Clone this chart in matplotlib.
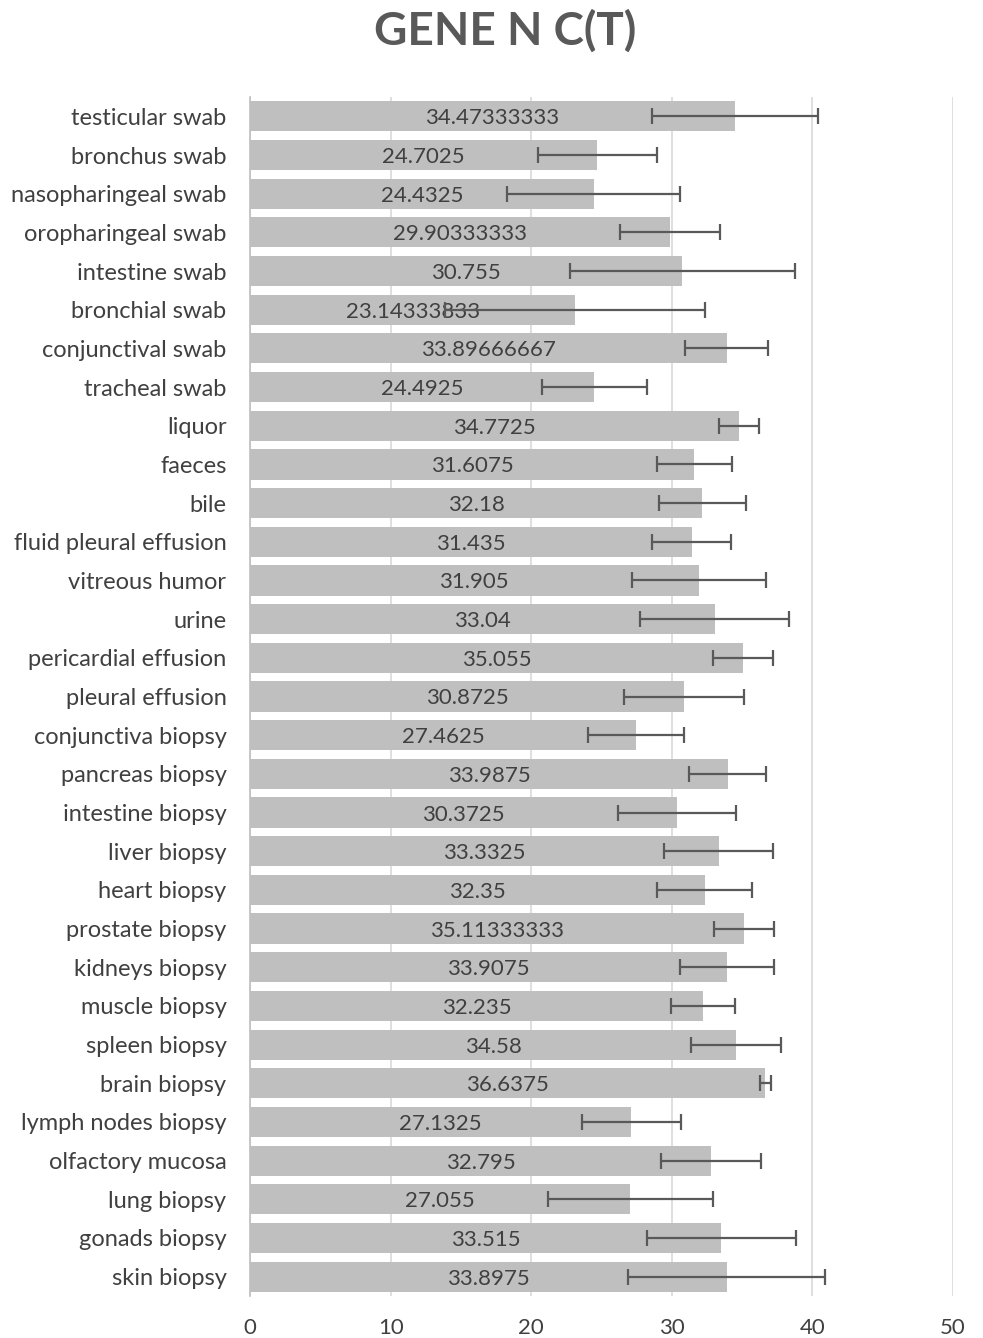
import matplotlib
matplotlib.use("Agg")
import matplotlib.pyplot as plt

categories = [
    "testicular swab", "bronchus swab", "nasopharingeal swab", "oropharingeal swab",
    "intestine swab", "bronchial swab", "conjunctival swab", "tracheal swab",
    "liquor", "faeces", "bile", "fluid pleural effusion", "vitreous humor", "urine",
    "pericardial effusion", "pleural effusion", "conjunctiva biopsy", "pancreas biopsy",
    "intestine biopsy", "liver biopsy", "heart biopsy", "prostate biopsy",
    "kidneys biopsy", "muscle biopsy", "spleen biopsy", "brain biopsy",
    "lymph nodes biopsy", "olfactory mucosa", "lung biopsy", "gonads biopsy", "skin biopsy",
]
values = [
    34.47333333, 24.7025, 24.4325, 29.90333333, 30.755, 23.14333333, 33.89666667,
    24.4925, 34.7725, 31.6075, 32.18, 31.435, 31.905, 33.04, 35.055, 30.8725,
    27.4625, 33.9875, 30.3725, 33.3325, 32.35, 35.11333333, 33.9075, 32.235,
    34.58, 36.6375, 27.1325, 32.795, 27.055, 33.515, 33.8975,
]
value_labels = [
    "34.47333333", "24.7025", "24.4325", "29.90333333", "30.755", "23.14333833",
    "33.89666667", "24.4925", "34.7725", "31.6075", "32.18", "31.435", "31.905",
    "33.04", "35.055", "30.8725", "27.4625", "33.9875", "30.3725", "33.3325",
    "32.35", "35.11333333", "33.9075", "32.235", "34.58", "36.6375", "27.1325",
    "32.795", "27.055", "33.515", "33.8975",
]
errors = [
    5.9, 4.24, 6.14, 3.56, 8.0, 9.25, 2.96, 3.71, 1.44, 2.69, 3.1, 2.81, 4.76,
    5.31, 2.15, 4.28, 3.44, 2.73, 4.17, 3.88, 3.38, 2.12, 3.33, 2.27, 3.2, 0.39,
    3.5, 3.58, 5.87, 5.29, 7.03,
]
xticks = [0, 10, 20, 30, 40, 50]

font = ["Lato", "DejaVu Sans"]
plt.rcParams["font.family"] = font
text_col = "#404040"

fig = plt.figure(figsize=(9.83, 13.38), dpi=100)
ax = fig.add_axes([250 / 983, 1 - 1296 / 1338, 703 / 983, 1199 / 1338])

y = list(range(len(categories)))
ax.barh(y, values, height=0.78, color="#BFBFBF", zorder=2)
ax.errorbar(values, y, xerr=errors, fmt="none", ecolor="#595959",
            elinewidth=1.6, capsize=5.5, capthick=1.6, zorder=4)

for yi, v, lab in zip(y, values, value_labels):
    ax.text(v / 2, yi, lab, ha="center", va="center_baseline", fontsize=16,
            color=text_col, zorder=3)

ax.set_xlim(0, 50)
ax.set_ylim(len(categories) - 0.5, -0.5)
ax.set_xticks(xticks)
ax.set_yticks(y)
ax.set_yticklabels(categories)
ax.tick_params(axis="y", length=0, pad=17, labelsize=17, labelcolor=text_col)
ax.tick_params(axis="x", length=0, pad=16, labelsize=16, labelcolor=text_col)
ax.grid(axis="x", color="#D9D9D9", linewidth=1.2, zorder=0)
ax.set_axisbelow(True)
for s in ["top", "right", "bottom"]:
    ax.spines[s].set_visible(False)
ax.spines["left"].set_color("#BFBFBF")
ax.spines["left"].set_linewidth(1.2)

fig.text(505 / 983, 1 - 31 / 1338, "GENE N C(T)", ha="center", va="center",
         fontsize=33, fontweight="bold", color="#595959")

fig.savefig("out.png", dpi=100)
